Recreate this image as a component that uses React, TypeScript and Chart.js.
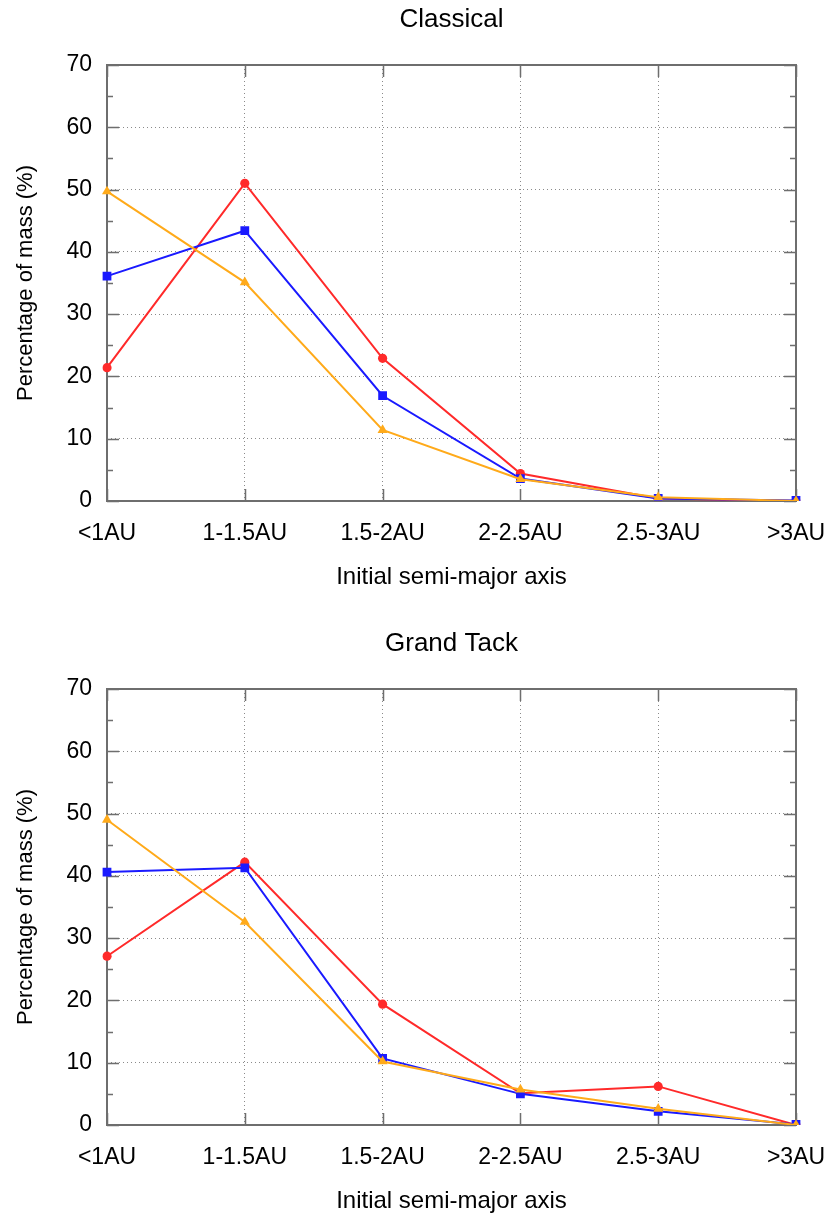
import React, { useEffect, useRef } from "react";
import { Chart, registerables } from "chart.js";

Chart.register(...registerables);

const categories = ["<1AU", "1-1.5AU", "1.5-2AU", "2-2.5AU", "2.5-3AU", ">3AU"];
const yTicks = [0, 10, 20, 30, 40, 50, 60, 70];

const classicalRed = [21.4, 51.0, 22.9, 4.4, 0.4, 0.0];
const classicalBlue = [36.1, 43.4, 16.9, 3.6, 0.4, 0.1];
const classicalOrange = [49.7, 35.1, 11.4, 3.5, 0.6, 0.0];

const grandTackRed = [27.1, 42.2, 19.4, 5.1, 6.2, 0.0];
const grandTackBlue = [40.6, 41.3, 10.7, 5.0, 2.2, 0.1];
const grandTackOrange = [49.0, 32.6, 10.2, 5.7, 2.6, 0.0];

const FONT = "'Liberation Sans', Arial, sans-serif";
const FRAME = "#6e6e6e";
const GRID = "#8a8a8a";

const framePlugin = {
  id: "gnuplotFrame",
  beforeDatasetsDraw(chart: any) {
    const { ctx, chartArea } = chart;
    const x = chart.scales.x;
    const y = chart.scales.y;
    const { left, right, top, bottom } = chartArea;
    ctx.save();
    ctx.strokeStyle = FRAME;
    ctx.lineWidth = 1.5;
    ctx.beginPath();
    for (let v = 0; v <= 70; v += 5) {
      const py = Math.round(y.getPixelForValue(v)) + 0.5;
      const len = v % 10 === 0 ? 12 : 6;
      ctx.moveTo(left, py);
      ctx.lineTo(left + len, py);
      ctx.moveTo(right, py);
      ctx.lineTo(right - len, py);
    }
    for (let i = 0; i < categories.length; i++) {
      const px = Math.round(x.getPixelForValue(i)) + 0.5;
      ctx.moveTo(px, bottom);
      ctx.lineTo(px, bottom - 12);
      ctx.moveTo(px, top);
      ctx.lineTo(px, top + 12);
    }
    ctx.stroke();
    ctx.lineWidth = 2;
    ctx.strokeRect(left, top, right - left, bottom - top);
    ctx.restore();
  },
};

function makeConfig(title: string, red: number[], blue: number[], orange: number[]): any {
  return {
    type: "line",
    data: {
      labels: categories,
      datasets: [
        {
          data: red,
          borderColor: "#ff2a2a",
          backgroundColor: "#ff2a2a",
          borderWidth: 2,
          pointStyle: "circle",
          pointRadius: 4.6,
          pointBorderWidth: 0,
          order: 3,
        },
        {
          data: blue,
          borderColor: "#1a1aff",
          backgroundColor: "#1a1aff",
          borderWidth: 2,
          pointStyle: "rect",
          pointRadius: 6.2,
          pointBorderWidth: 0,
          order: 2,
        },
        {
          data: orange,
          borderColor: "#ffaa1a",
          backgroundColor: "#ffaa1a",
          borderWidth: 2,
          pointStyle: "triangle",
          pointRadius: 5.8,
          pointBorderWidth: 0,
          order: 1,
        },
      ],
    },
    options: {
      animation: false,
      responsive: false,
      maintainAspectRatio: false,
      layout: { padding: 0 },
      plugins: {
        legend: { display: false },
        tooltip: { enabled: false },
        title: { display: false },
      },
      scales: {
        x: {
          type: "category",
          offset: false,
          grid: {
            display: true,
            drawTicks: false,
            color: GRID,
            lineWidth: 1,
          },
          border: { display: false, dash: [1, 3] },
          ticks: {
            color: "#000",
            padding: 19,
            maxRotation: 0,
            autoSkip: false,
            font: { family: FONT, size: 23 },
          },
          title: {
            display: true,
            text: "Initial semi-major axis",
            color: "#000",
            font: { family: FONT, size: 24, lineHeight: 1.2 },
            padding: { top: 0, bottom: 0 },
          },
          afterFit: (s: any) => {
            s.height = 91;
            s.paddingLeft = 0;
            s.paddingRight = 0;
          },
        },
        xTop: {
          type: "category",
          position: "top",
          offset: false,
          display: true,
          grid: { display: false, drawTicks: false },
          border: { display: false },
          ticks: { display: false },
          title: {
            display: true,
            text: title,
            color: "#000",
            font: { family: FONT, size: 26, lineHeight: 1.2 },
            padding: { top: 4, bottom: 0 },
          },
          afterFit: (s: any) => {
            s.height = 65;
            s.paddingLeft = 0;
            s.paddingRight = 0;
          },
        },
        y: {
          type: "linear",
          position: "left",
          min: 0,
          max: 70,
          afterBuildTicks: (s: any) => {
            s.ticks = yTicks.map((v) => ({ value: v }));
          },
          grid: {
            display: true,
            drawTicks: false,
            color: (c: any) => (c.tick && c.tick.value > 0 && c.tick.value < 70 ? GRID : "rgba(0,0,0,0)"),
            lineWidth: 1,
          },
          border: { display: false, dash: [1, 3] },
          ticks: {
            color: "#000",
            padding: 15,
            font: { family: FONT, size: 23 },
          },
          title: {
            display: true,
            text: "Percentage of mass (%)",
            color: "#000",
            font: { family: FONT, size: 22, lineHeight: 1.2 },
            padding: { top: 13, bottom: 0 },
          },
          afterFit: (s: any) => {
            s.width = 107;
          },
        },
        yRight: {
          type: "linear",
          position: "right",
          display: true,
          grid: { display: false, drawTicks: false },
          border: { display: false },
          ticks: { display: false },
          afterFit: (s: any) => {
            s.width = 31;
          },
        },
      },
    },
    plugins: [framePlugin],
  };
}

function Panel(props: { title: string; red: number[]; blue: number[]; orange: number[]; top: number }) {
  const ref = useRef<HTMLCanvasElement | null>(null);
  useEffect(() => {
    if (!ref.current) return;
    const chart = new Chart(ref.current, makeConfig(props.title, props.red, props.blue, props.orange));
    return () => chart.destroy();
  }, []);
  return (
    <canvas
      ref={ref}
      width={827}
      height={592}
      style={{ position: "absolute", left: 0, top: props.top, width: 827, height: 592 }}
    />
  );
}

export default function App() {
  return (
    <div style={{ position: "absolute", left: 0, top: 0, width: 827, height: 1216, background: "#fff", overflow: "hidden" }}>
      <Panel title="Classical" red={classicalRed} blue={classicalBlue} orange={classicalOrange} top={0} />
      <Panel title="Grand Tack" red={grandTackRed} blue={grandTackBlue} orange={grandTackOrange} top={624} />
    </div>
  );
}
